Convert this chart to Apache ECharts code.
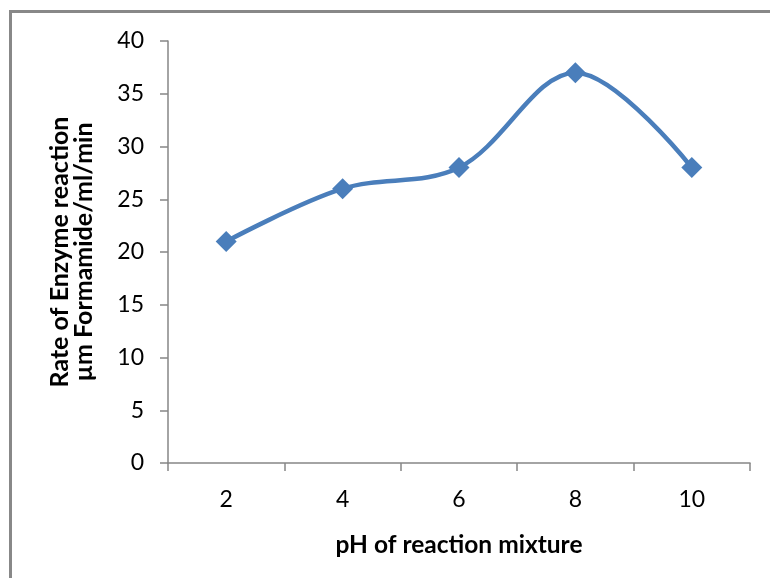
<!DOCTYPE html>
<html>
<head>
<meta charset="utf-8">
<script src="https://cdn.jsdelivr.net/npm/echarts@6/dist/echarts.min.js"></script>
<style>html,body{margin:0;padding:0;background:#fff}#c{width:770px;height:578px}</style>
</head>
<body>
<div id="c"></div>
<script>
const categories = ['2', '4', '6', '8', '10'];
const rates = [21, 26, 28, 37, 28];
const yTicks = { min: 0, max: 40, interval: 5 };
const xTitle = 'pH of reaction mixture';
const yTitle = 'Rate of Enzyme reaction\nµm Formamide/ml/min';

const FONT = 'Lato, "Open Sans", sans-serif';
const axisGray = '#868686';
const chart = echarts.init(document.getElementById('c'));
chart.setOption({
  animation: false,
  backgroundColor: '#fff',
  graphic: [{
    type: 'rect', silent: true,
    shape: { x: 10.5, y: 11.5, width: 900, height: 800 },
    style: { fill: 'none', stroke: '#888888', lineWidth: 3 }
  }],
  grid: { left: 168, right: 20, top: 41, bottom: 115 },
  xAxis: {
    type: 'category', data: categories, boundaryGap: true,
    axisLine: { lineStyle: { color: axisGray, width: 1.5 } },
    axisTick: { show: true, alignWithLabel: false, length: 8, lineStyle: { color: axisGray, width: 1.5 } },
    axisLabel: { color: '#000', fontFamily: FONT, fontSize: 23, margin: 25 },
    name: xTitle, nameLocation: 'middle', nameGap: 70,
    nameTextStyle: { color: '#000', fontFamily: FONT, fontSize: 24.5, fontWeight: 'bold' }
  },
  yAxis: {
    type: 'value', min: yTicks.min, max: yTicks.max, interval: yTicks.interval,
    splitLine: { show: false },
    axisLine: { show: true, lineStyle: { color: axisGray, width: 1.5 } },
    axisTick: { show: true, length: 8, lineStyle: { color: axisGray, width: 1.5 } },
    axisLabel: { color: '#000', fontFamily: FONT, fontSize: 23, margin: 24 },
    name: yTitle, nameLocation: 'middle', nameRotate: 90, nameGap: 72,
    nameTextStyle: { color: '#000', fontFamily: FONT, fontSize: 25, fontWeight: 'bold', lineHeight: 24 }
  },
  series: [{
    type: 'line', data: rates, smooth: 0.35,
    symbol: 'diamond', symbolSize: 21,
    lineStyle: { color: '#4a7ebb', width: 4.5 },
    itemStyle: { color: '#4a7ebb' }
  }]
});
</script>
</body>
</html>
